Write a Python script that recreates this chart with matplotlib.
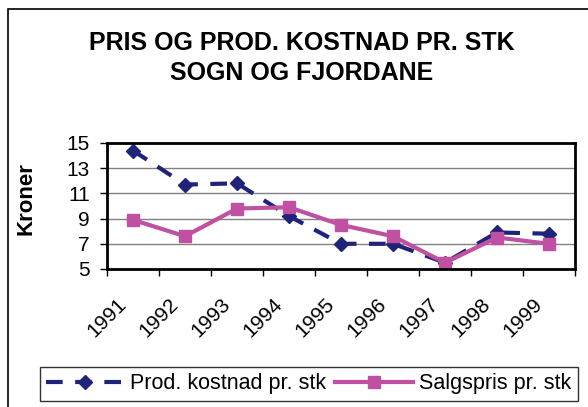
import matplotlib.pyplot as plt
import matplotlib.transforms as mtransforms
from matplotlib.patches import Rectangle

plt.rcParams['font.family'] = ['Liberation Sans', 'DejaVu Sans']

years = ["1991", "1992", "1993", "1994", "1995", "1996", "1997", "1998", "1999"]
prod_kostnad = [14.4, 11.7, 11.8, 9.2, 7.0, 7.0, 5.5, 7.9, 7.8]
salgspris = [8.9, 7.6, 9.8, 9.9, 8.5, 7.6, 5.5, 7.5, 7.0]

navy = "#1f237a"
pink = "#c050a2"

fig = plt.figure(figsize=(5.88, 4.07), dpi=100)

# outer chart frame, cut off on the right like the source
fig.patches.append(Rectangle((8 / 588, -0.1), 1.2, 1.1 - 9 / 407,
                             transform=fig.transFigure, fill=False,
                             edgecolor="black", linewidth=1.2))

ax = fig.add_axes([107 / 588, 1 - 269 / 407, 468 / 588, 126 / 407])
x = list(range(len(years)))

ax.plot(x, prod_kostnad, color=navy, linewidth=3, linestyle=(0, (4, 3)),
        marker="D", markersize=7, label="Prod. kostnad pr. stk")
ax.plot(x, salgspris, color=pink, linewidth=3, marker="s", markersize=8,
        label="Salgspris pr. stk")

ax.set_xlim(-0.5, len(years) - 0.5)
ax.set_ylim(5, 15)
ax.set_yticks([5, 7, 9, 11, 13, 15])
ax.tick_params(axis="y", labelsize=15, length=5, width=1, direction="out", pad=7.5)
ax.yaxis.grid(True, color="#808080", linewidth=1)
ax.set_axisbelow(True)

ax.set_xticks([i - 0.5 for i in range(len(years) + 1)])
ax.set_xticklabels([])
ax.set_xticks(x, minor=True)
ax.set_xticklabels(years, minor=True, rotation=45, ha="right", va="center",
                   rotation_mode="anchor", fontsize=15)
ax.tick_params(axis="x", which="major", length=5, width=1, direction="out")
ax.tick_params(axis="x", which="minor", length=0, pad=23)
shift = mtransforms.ScaledTranslation(-10 / 100, 0, fig.dpi_scale_trans)
for lbl in ax.get_xticklabels(minor=True):
    lbl.set_transform(lbl.get_transform() + shift)

for s in ax.spines.values():
    s.set_linewidth(2)
    s.set_color("black")

ax.set_ylabel("Kroner", fontsize=16, fontweight="bold", va="center")
ax.yaxis.set_label_coords((26 - 107) / 468, 0.56)

fig.text(302 / 588, 1 - 43 / 407, "PRIS OG PROD. KOSTNAD PR. STK",
         ha="center", va="center", fontsize=18, fontweight="bold")
fig.text(302 / 588, 1 - 73 / 407, "SOGN OG FJORDANE",
         ha="center", va="center", fontsize=18, fontweight="bold")

leg = fig.legend(loc="upper left", bbox_to_anchor=(40 / 588, 1 - 367 / 407),
                 ncol=2, fontsize=15.5, frameon=True, fancybox=False,
                 edgecolor="black", handlelength=3.6, columnspacing=0.4,
                 handletextpad=0.3, borderpad=0.3, borderaxespad=0)
leg.get_frame().set_linewidth(1)

fig.savefig("out.png", dpi=100)
